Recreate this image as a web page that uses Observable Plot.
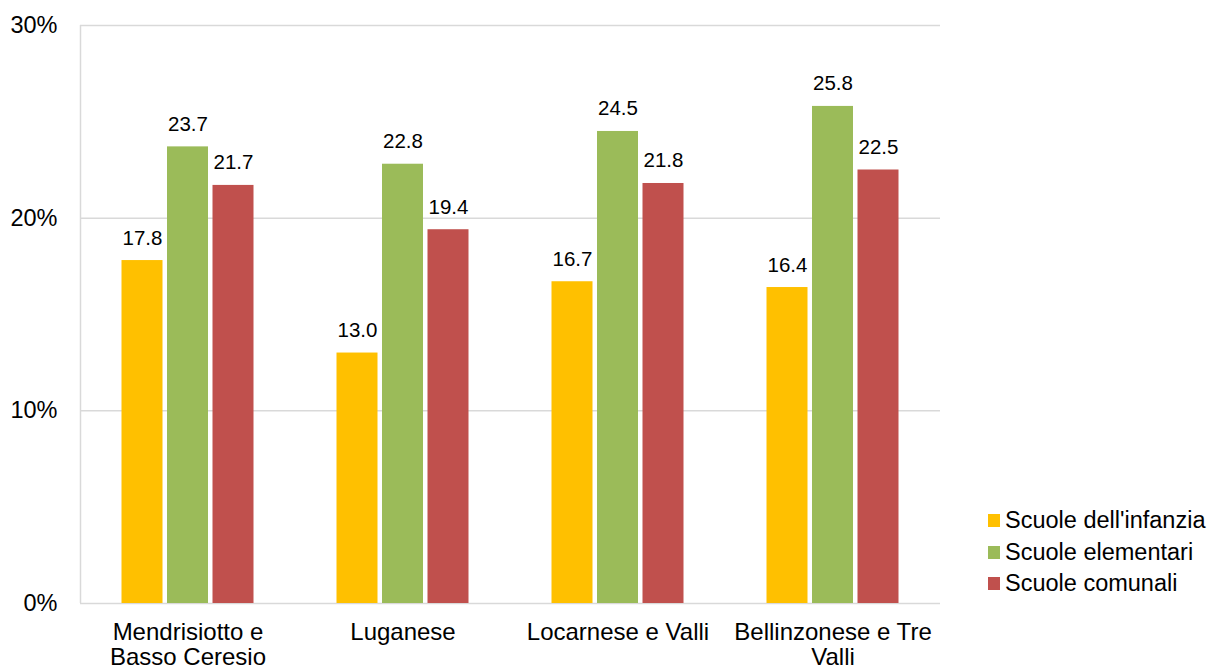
<!DOCTYPE html>
<html>
<head>
<meta charset="utf-8">
<script src="https://cdn.jsdelivr.net/npm/d3@7"></script>
<script src="https://cdn.jsdelivr.net/npm/@observablehq/plot@0.6"></script>
<style>
  html, body { margin: 0; padding: 0; background: #fff; }
  #wrap { position: relative; width: 1212px; height: 668px; font-family: "Liberation Sans", Arial, sans-serif; }
  #legend { position: absolute; left: 988px; top: 505px; font-size: 23.5px; color: #000; }
  .item { display: flex; align-items: center; height: 31.5px; }
  .sw { width: 12px; height: 13px; margin-right: 5px; }
</style>
</head>
<body>
<div id="wrap"></div>
<script>
const regions = ["Mendrisiotto e\nBasso Ceresio", "Luganese", "Locarnese e Valli", "Bellinzonese e Tre\nValli"];
const seriesNames = ["Scuole dell'infanzia", "Scuole elementari", "Scuole comunali"];
const seriesColors = ["#FFC000", "#9BBB59", "#C0504D"];
const infanzia = [17.8, 13.0, 16.7, 16.4];
const elementari = [23.7, 22.8, 24.5, 25.8];
const comunali = [21.7, 19.4, 21.8, 22.5];
const yTicks = [0, 10, 20, 30];

const seriesValues = [infanzia, elementari, comunali];
const offsets = [-45.5, 0, 45.5];
const barW = 41;
const bandW = (940 - 80) / regions.length;
const inset = (bandW - barW) / 2;

const marks = [
  Plot.ruleY([10, 20, 30], {stroke: "#D9D9D9", strokeWidth: 1.5}),
  Plot.ruleY([0], {stroke: "#D9D9D9", strokeWidth: 1.5}),
  Plot.ruleX([regions[0]], {y1: 0, y2: 30, dx: -bandW / 2, stroke: "#D9D9D9", strokeWidth: 1.5}),
];
seriesValues.forEach((vals, i) => {
  const data = regions.map((r, j) => ({region: r, value: vals[j]}));
  marks.push(Plot.barY(data, {x: "region", y: "value", fill: seriesColors[i], dx: offsets[i], insetLeft: inset, insetRight: inset}));
  marks.push(Plot.text(data, {x: "region", y: "value", text: d => d.value.toFixed(1), dx: offsets[i], dy: -16, lineAnchor: "bottom", fontSize: 20.5, fill: "#000"}));
});
marks.push(Plot.axisY({ticks: yTicks, tickFormat: d => d + "%", tickSize: 0, tickPadding: 23, fontSize: 23.5, fill: "#000"}));
marks.push(Plot.axisX({tickSize: 0, tickPadding: 18, fontSize: 24, lineHeight: 1.07, lineAnchor: "top", fill: "#000"}));

const chart = Plot.plot({
  width: 1212,
  height: 668,
  marginLeft: 80,
  marginRight: 272,
  marginTop: 25,
  marginBottom: 65,
  style: {fontFamily: "'Liberation Sans', Arial, sans-serif", background: "#fff", color: "#000", overflow: "visible"},
  x: {domain: regions, padding: 0, round: false, label: null},
  y: {domain: [0, 30], label: null},
  marks
});
const wrap = document.getElementById("wrap");
wrap.appendChild(chart);

const legend = document.createElement("div");
legend.id = "legend";
seriesNames.forEach((n, i) => {
  const it = document.createElement("div");
  it.className = "item";
  const sw = document.createElement("div");
  sw.className = "sw";
  sw.style.background = seriesColors[i];
  const t = document.createElement("span");
  t.textContent = n;
  it.appendChild(sw);
  it.appendChild(t);
  legend.appendChild(it);
});
wrap.appendChild(legend);
</script>
</body>
</html>
